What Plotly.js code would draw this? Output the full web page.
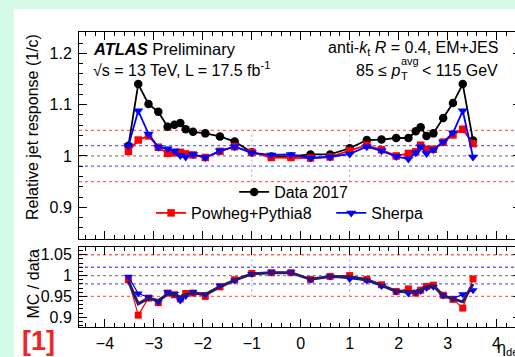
<!DOCTYPE html>
<html><head><meta charset="utf-8">
<script src="https://cdn.plot.ly/plotly-3.0.1.min.js"></script>
<style>
html,body{margin:0;padding:0;width:515px;height:357px;overflow:hidden;background:#d6fae8;}
#bg{position:absolute;left:14px;top:9px;width:501px;height:348px;background:#ffffff;}
#chart{position:absolute;left:0;top:0;width:530px;height:357px;}
</style></head>
<body>
<div id="bg"></div>
<div id="chart"></div>
<script>
// eta bin centres
const eta = [-3.52,-3.32,-3.11,-2.91,-2.72,-2.58,-2.46,-2.35,-2.2,-1.95,-1.65,-1.35,-1.0,-0.6,-0.2,
              0.2,0.6,1.0,1.35,1.65,1.95,2.2,2.35,2.45,2.57,2.71,2.91,3.11,3.31,3.52];
// relative jet response
const data2017 = [1.020,1.140,1.101,1.086,1.057,1.061,1.064,1.052,1.047,1.044,1.038,1.028,1.007,0.999,0.999,
                  1.003,1.003,1.015,1.031,1.032,1.035,1.035,1.048,1.056,1.039,1.044,1.074,1.103,1.140,1.030];
const powheg   = [1.009,1.031,1.039,1.017,1.005,1.006,1.007,1.004,1.002,0.997,1.009,1.018,1.007,0.997,0.997,
                  0.996,0.998,1.010,1.021,1.012,1.000,1.005,1.008,1.021,1.013,1.013,1.027,1.041,1.052,1.024];
const sherpa   = [1.020,1.088,1.043,1.017,1.014,1.010,1.001,0.998,1.003,0.997,1.010,1.018,1.006,1.002,1.003,
                  0.996,0.998,1.004,1.018,1.010,0.999,0.994,1.006,1.018,1.005,1.012,1.027,1.045,1.088,0.998];
// MC / data
const ratioPowheg = [0.990,0.905,0.946,0.935,0.958,0.954,0.944,0.957,0.958,0.950,0.973,0.990,1.005,1.007,1.007,
                     0.991,0.998,1.000,0.991,0.978,0.962,0.968,0.958,0.965,0.974,0.977,0.953,0.943,0.922,0.992];
const ratioSherpa = [0.997,0.957,0.948,0.937,0.960,0.956,0.940,0.951,0.960,0.955,0.976,0.988,1.004,1.008,1.008,
                     0.990,0.998,0.992,0.988,0.975,0.962,0.957,0.960,0.963,0.970,0.973,0.952,0.945,0.955,0.965];
const ratioCombined = [0.986,0.932,0.946,0.940,0.955,0.955,0.948,0.955,0.958,0.955,0.973,0.989,1.004,1.007,1.007,
                       0.991,0.998,0.997,0.990,0.977,0.962,0.962,0.958,0.964,0.973,0.976,0.952,0.944,0.937,0.980];
// reference levels
const refLevels = [1.05, 1.02, 1.0, 0.98, 0.95];
const refColors = ['#ff6464','#6464ff','#8a8a8a','#6464ff','#ff6464'];
const refEta = [-1, 1];
const refEtaSpan = [0.95, 1.05];
const xTicks = [-4,-3,-2,-1,0,1,2,3,4];

const FONT = 'Liberation Sans, Arial, Helvetica, sans-serif';
const W = 530, H = 357, ML = 79, MR = 9.4, MT = 32, MB = 30;
const PW = W - ML - MR, PH = H - MT - MB;
const px = v => (v - ML) / PW;
const py = v => (H - MB - v) / PH;

const traces = [
  {x: eta, y: data2017, xaxis:'x', yaxis:'y', mode:'lines+markers', name:'Data 2017', legend:'legend',
   line:{color:'#000', width:1.8}, marker:{symbol:'circle', size:8.5, color:'#000'}},
  {x: eta, y: powheg, xaxis:'x', yaxis:'y', mode:'lines+markers', name:'Powheg+Pythia8', legend:'legend2',
   line:{color:'#ff0000', width:1.8}, marker:{symbol:'square', size:7.5, color:'#ff0000'}},
  {x: eta, y: sherpa, xaxis:'x', yaxis:'y', mode:'lines+markers', name:'Sherpa', legend:'legend3',
   line:{color:'#0000ff', width:1.8}, marker:{symbol:'triangle-down', size:9, color:'#0000ff'}},
  {x: eta, y: ratioPowheg, xaxis:'x2', yaxis:'y2', mode:'lines+markers', showlegend:false,
   line:{color:'#ff0000', width:1.2}, marker:{symbol:'square', size:7, color:'#ff0000'}},
  {x: eta, y: ratioSherpa, xaxis:'x2', yaxis:'y2', mode:'lines+markers', showlegend:false,
   line:{color:'#0000ff', width:1.2}, marker:{symbol:'triangle-down', size:8, color:'#0000ff'}},
  {x: eta, y: ratioCombined, xaxis:'x2', yaxis:'y2', mode:'lines', showlegend:false,
   line:{color:'#2a1a6a', width:3}}
];

const shapes = [];
['y','y2'].forEach(ya => {
  refLevels.forEach((lv, i) => shapes.push({type:'line', layer:'below', xref: ya==='y'?'x domain':'x2 domain', yref: ya,
    x0:0, x1:1, y0:lv, y1:lv, line:{color:refColors[i], width:1.3, dash:'3px,3px'}}));
  refEta.forEach(e => shapes.push({type:'line', layer:'below', xref: ya==='y'?'x':'x2', yref: ya,
    x0:e, x1:e, y0:refEtaSpan[0], y1:refEtaSpan[1], line:{color:'#aaaaaa', width:1, dash:'2px,3px'}}));
});

const axisCommon = {showline:true, linecolor:'#000', linewidth:1, mirror:'allticks', ticks:'inside',
  tickcolor:'#000', tickwidth:1, showgrid:false, zeroline:false, tickfont:{family:FONT, size:16, color:'#000'}};

const ann = (text, x, y, opts) => Object.assign({text, xref:'paper', yref:'paper', x:px(x), y:py(y),
  showarrow:false, font:{family:FONT, size:16, color:'#000'}}, opts||{});

const layout = {
  width:W, height:H, margin:{l:ML, r:MR, t:MT, b:MB},
  paper_bgcolor:'rgba(0,0,0,0)', plot_bgcolor:'rgba(0,0,0,0)',
  xaxis: Object.assign({}, axisCommon, {anchor:'y', range:[-4.53,4.5], tickvals:xTicks, showticklabels:false,
     ticklen:8, minor:{dtick:0.2, tick0:0, ticklen:4, ticks:'inside', tickcolor:'#000'}}),
  yaxis: Object.assign({}, axisCommon, {domain:[py(239),1], range:[0.8382,1.2415], dtick:0.1, tick0:0.9,
     ticklen:8, tickformat:'.1~f', ticklabelstandoff:3, minor:{dtick:0.02, ticklen:4, ticks:'inside', tickcolor:'#000'}}),
  xaxis2: Object.assign({}, axisCommon, {anchor:'y2', matches:'x', range:[-4.53,4.5], tickvals:xTicks,
     ticklen:8, ticklabelstandoff:2, minor:{dtick:0.2, tick0:0, ticklen:4, ticks:'inside', tickcolor:'#000'}}),
  yaxis2: Object.assign({}, axisCommon, {domain:[0,py(246.7)], range:[0.8766,1.0693], tickvals:[0.9,0.95,1,1.05],
     ticktext:['0.9','0.95','1','1.05'], ticklen:8, ticklabelstandoff:3,
     minor:{dtick:0.01, ticklen:4, ticks:'inside', tickcolor:'#000'}}),
  shapes: shapes,
  showlegend:true,
  legend: {x:px(234), y:py(192), xanchor:'left', yanchor:'middle', bgcolor:'rgba(0,0,0,0)', borderwidth:0,
     font:{family:FONT, size:16, color:'#000'}},
  legend2:{x:px(151), y:py(213), xanchor:'left', yanchor:'middle', bgcolor:'rgba(0,0,0,0)', borderwidth:0,
     font:{family:FONT, size:16, color:'#000'}},
  legend3:{x:px(331), y:py(213), xanchor:'left', yanchor:'middle', bgcolor:'rgba(0,0,0,0)', borderwidth:0,
     font:{family:FONT, size:16, color:'#000'}},
  annotations: [
    ann('<b><i>ATLAS</i></b> Preliminary', 91, 49, {xanchor:'left', yanchor:'middle', font:{family:FONT, size:16.5, color:'#000'}}),
    ann('√s = 13 TeV, L = 17.5 fb<sup>-1</sup>', 91, 69, {xanchor:'left', yanchor:'middle'}),
    ann('anti-<i>k</i><sub>t</sub> <i>R</i> = 0.4, EM+JES', 500, 48, {xanchor:'right', yanchor:'middle'}),
    ann('85 ≤ <i>p</i>', 402, 70, {xanchor:'right', yanchor:'middle'}),
    ann('avg', 399, 61.5, {xanchor:'left', yanchor:'middle', font:{family:FONT, size:11, color:'#000'}}),
    ann('T', 399, 76, {xanchor:'left', yanchor:'middle', font:{family:FONT, size:11, color:'#000'}}),
    ann('< 115 GeV', 500, 70, {xanchor:'right', yanchor:'middle'}),
    ann('Relative jet response (1/c)', 32, 32, {xanchor:'center', yanchor:'top', textangle:-90}),
    ann('MC / data', 34, 247, {xanchor:'center', yanchor:'top', textangle:-90}),
    ann('η<sub>det</sub>', 495, 348, {xanchor:'left', yanchor:'middle'}),
    ann('<b>[1]</b>', 39, 341, {xanchor:'center', yanchor:'middle',
        font:{family:'Liberation Sans Narrow, Liberation Sans, Arial, sans-serif', size:27, color:'#f42323'}})
  ]
};

Plotly.newPlot('chart', traces, layout, {staticPlot:true, displayModeBar:false});
</script>
</body></html>
